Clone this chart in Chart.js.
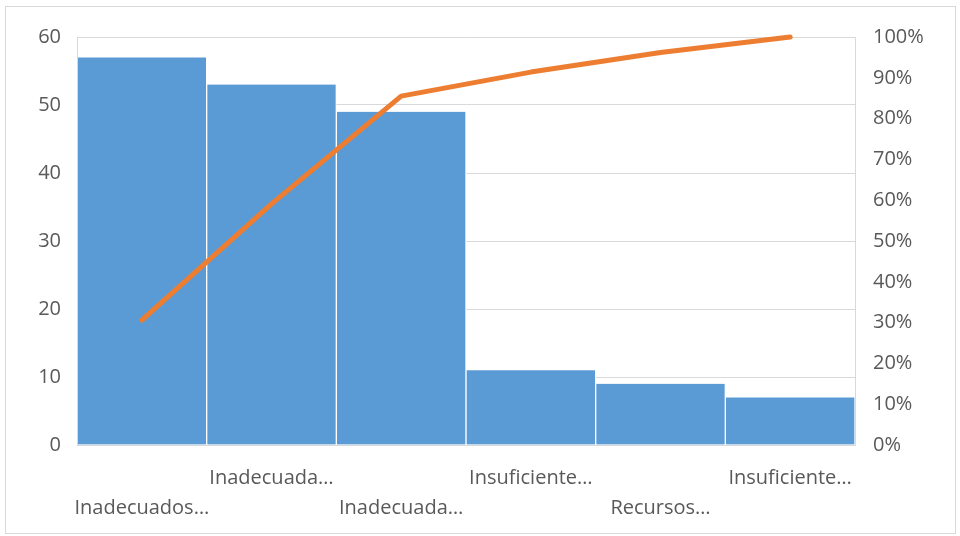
<!DOCTYPE html>
<html>
<head>
<meta charset="utf-8">
<script src="https://cdn.jsdelivr.net/npm/chart.js@4/dist/chart.umd.min.js"></script>
<style>
  body { margin: 0; background: #fff; }
  #frame { position: absolute; left: 5px; top: 6px; width: 949px; height: 526px; border: 1px solid #d9d9d9; }
  #chart { position: absolute; left: 0; top: 0; }
</style>
</head>
<body>
<div id="frame"></div>
<canvas id="chart" width="960" height="536"></canvas>
<script>
// Data
const categories = ['Inadecuados…', 'Inadecuada…', 'Inadecuada…', 'Insuficiente…', 'Recursos…', 'Insuficiente…'];
const counts = [57, 53, 49, 11, 9, 7];
const cumulativePct = [30.6, 59.1, 85.5, 91.4, 96.2, 100];
const leftTicks = [0, 10, 20, 30, 40, 50, 60];
const rightTicks = [0, 10, 20, 30, 40, 50, 60, 70, 80, 90, 100];

const textColor = '#595959';
const gridColor = '#d9d9d9';
const font = { family: 'Open Sans', size: 20, lineHeight: 1.5 };

// staggered labels: even index on the lower row, odd on the upper row
const labels = categories.map((c, i) => i % 2 === 0 ? ['', c] : [c, '']);

const ctx = document.getElementById('chart').getContext('2d');
new Chart(ctx, {
    type: 'bar',
    data: {
        labels: labels,
        datasets: [
            {
                type: 'line',
                data: cumulativePct,
                yAxisID: 'y1',
                borderColor: '#ed7d31',
                borderWidth: 5,
                borderCapStyle: 'round',
                borderJoinStyle: 'round',
                pointRadius: 0,
                tension: 0,
                clip: false,
                order: 0
            },
            {
                data: counts,
                yAxisID: 'y',
                backgroundColor: '#5b9bd5',
                borderColor: '#ffffff',
                borderWidth: { left: 1, right: 1, top: 0, bottom: 0 },
                categoryPercentage: 1,
                barPercentage: 1,
                order: 1
            }
        ]
    },
    options: {
        responsive: false,
        animation: false,
        layout: { padding: { top: 37, left: 0, right: 0, bottom: 0 } },
        plugins: { legend: { display: false }, tooltip: { enabled: false } },
        scales: {
            x: {
                grid: { display: false, drawTicks: false },
                border: { display: false },
                ticks: { color: textColor, font: font, padding: 18, maxRotation: 0, autoSkip: false },
                afterFit: s => { s.height = 91; }
            },
            y: {
                position: 'left',
                min: 0,
                max: 60,
                afterBuildTicks: s => { s.ticks = leftTicks.map(v => ({ value: v })); },
                grid: { color: gridColor, drawTicks: false, lineWidth: 1 },
                border: { display: true, color: gridColor },
                ticks: { color: textColor, font: font, padding: 16 },
                afterFit: s => { s.width = 77; }
            },
            y1: {
                position: 'right',
                min: 0,
                max: 100,
                afterBuildTicks: s => { s.ticks = rightTicks.map(v => ({ value: v })); },
                grid: { display: false, drawTicks: false },
                border: { display: true, color: gridColor },
                ticks: { color: textColor, font: font, padding: 18, callback: v => v + '%' },
                afterFit: s => { s.width = 105; }
            }
        }
    }
});
</script>
</body>
</html>
